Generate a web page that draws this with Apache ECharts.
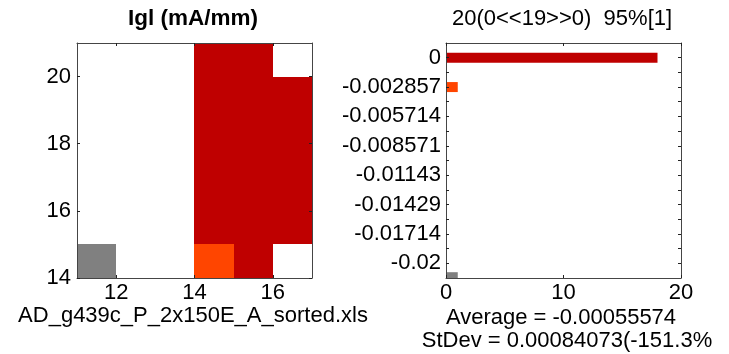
<!DOCTYPE html>
<html>
<head>
<meta charset="utf-8">
<script src="https://cdn.jsdelivr.net/npm/echarts@6/dist/echarts.min.js"></script>
<style>
  html, body { margin: 0; padding: 0; background: #fff; }
  #chart { width: 729px; height: 354px; }
</style>
</head>
<body>
<div id="chart"></div>
<script>
// Wafer map: column / row positions and Igl values (null = no die, NaN = missing)
const mapCols = [11, 12, 13, 14, 15, 16];
const mapRows = [14, 15, 16, 17, 18, 19, 20];
const mapValues = [
  [NaN,  null, null, -0.002857, 0, null], // row 14
  [null, null, null, 0,         0, 0],    // row 15
  [null, null, null, 0,         0, 0],    // row 16
  [null, null, null, 0,         0, 0],    // row 17
  [null, null, null, 0,         0, 0],    // row 18
  [null, null, null, 0,         0, 0],    // row 19
  [null, null, null, 0,         0, null]  // row 20
];
const mapXTicks = [12, 14, 16];
const mapYTicks = [14, 16, 18, 20];

// Histogram bins, their labels, counts and colours
const binValues = [0, -0.002857, -0.005714, -0.008571, -0.01143, -0.01429, -0.01714, -0.02];
const binLabels = ['0', '-0.002857', '-0.005714', '-0.008571', '-0.01143', '-0.01429', '-0.01714', '-0.02'];
const binCounts = [18, 1, 0, 0, 0, 0, 0, 0];
const binColors = ['#BF0000', '#FF4500', '#FF8C00', '#FFD700', '#ADFF2F', '#00CED1', '#1E90FF', '#0000CD'];
const missingCount = 1;
const missingPos = -0.02135;
const missingColor = '#808080';
const countTicks = [0, 10, 20];

const titleLeft = 'Igl (mA/mm)';
const titleRight = '20(0<<19>>0)  95%[1]';
const fileLabel = 'AD_g439c_P_2x150E_A_sorted.xls';
const avgLabel = 'Average = -0.00055574';
const stdLabel = 'StDev = 0.00084073(-151.3%';

function nearestBin(v) {
  let best = 0;
  binValues.forEach((b, i) => { if (Math.abs(b - v) < Math.abs(binValues[best] - v)) best = i; });
  return best;
}
function colorFor(v) {
  return Number.isNaN(v) ? missingColor : binColors[nearestBin(v)];
}

const cells = [];
mapRows.forEach((r, ri) => {
  mapCols.forEach((c, ci) => {
    const v = mapValues[ri][ci];
    if (v !== null) cells.push({ value: [c, r], itemStyle: { color: colorFor(v) } });
  });
});

const bars = binCounts.map((n, i) => ({ value: [n, binValues[i]], itemStyle: { color: binColors[i] } }))
  .filter(d => d.value[0] > 0);
bars.push({ value: [missingCount, missingPos], itemStyle: { color: missingColor } });

const halfStep = (binValues[0] - binValues[1]) / 2;
const binMid = binValues.slice(0, -1).map((b, i) => (b + binValues[i + 1]) / 2);
const yMinorTicks = binValues.concat(binMid);
const histMin = binValues[binValues.length - 1] - halfStep;
const histMax = binValues[0] + halfStep;

const FONT = 'Liberation Sans, Arial, sans-serif';
const LINE = '#454545';
const axisLine = { show: true, onZero: false, lineStyle: { color: LINE, width: 1 } };
const tick = (vals) => ({ show: true, inside: true, length: 3, customValues: vals, lineStyle: { color: '#222' } });
const lbl = (vals, extra) => Object.assign({ show: true, customValues: vals, color: '#000', fontSize: 22, fontFamily: FONT }, extra || {});
const noLbl = { show: false };
const noSplit = { show: false };

const chart = echarts.init(document.getElementById('chart'), null, { renderer: 'canvas' });
chart.setOption({
  animation: false,
  backgroundColor: '#fff',
  grid: [
    { left: 77, top: 43, width: 235, height: 235, show: false },
    { left: 446, top: 43, width: 235, height: 235, show: false }
  ],
  xAxis: [
    { gridIndex: 0, type: 'value', min: 11, max: 17, position: 'bottom', z: 5, axisLine, axisTick: tick(mapXTicks), axisLabel: lbl(mapXTicks, { margin: 4 }), splitLine: noSplit },
    { gridIndex: 0, type: 'value', min: 11, max: 17, position: 'top', z: 5, axisLine, axisTick: tick(mapXTicks), axisLabel: noLbl, splitLine: noSplit },
    { gridIndex: 1, type: 'value', min: 0, max: 20, position: 'bottom', z: 5, axisLine, axisTick: tick(countTicks), axisLabel: lbl(countTicks, { margin: 4 }), splitLine: noSplit },
    { gridIndex: 1, type: 'value', min: 0, max: 20, position: 'top', z: 5, axisLine, axisTick: tick(countTicks), axisLabel: noLbl, splitLine: noSplit }
  ],
  yAxis: [
    { gridIndex: 0, type: 'value', min: 14, max: 21, position: 'left', z: 5, axisLine, axisTick: tick(mapYTicks), axisLabel: lbl(mapYTicks, { margin: 6 }), splitLine: noSplit },
    { gridIndex: 0, type: 'value', min: 14, max: 21, position: 'right', z: 5, axisLine, axisTick: tick(mapYTicks), axisLabel: noLbl, splitLine: noSplit },
    { gridIndex: 1, type: 'value', min: histMin, max: histMax, position: 'left', z: 5, axisLine,
      axisTick: tick(yMinorTicks),
      axisLabel: lbl(binValues, { margin: 5, formatter: (v) => binLabels[nearestBin(v)] }),
      splitLine: noSplit },
    { gridIndex: 1, type: 'value', min: histMin, max: histMax, position: 'right', z: 5, axisLine,
      axisTick: tick(yMinorTicks), axisLabel: noLbl, splitLine: noSplit }
  ],
  series: [
    {
      type: 'custom', xAxisIndex: 0, yAxisIndex: 0, clip: true, z: 2,
      data: cells,
      renderItem: (params, api) => {
        const x = api.value(0), y = api.value(1);
        const p0 = api.coord([x, y + 1]);
        const p1 = api.coord([x + 1, y]);
        // snap cell edges to whole pixels so neighbouring cells meet without seams
        const x0 = Math.round(p0[0]), y0 = Math.round(p0[1]);
        const x1 = Math.round(p1[0]), y1 = Math.round(p1[1]);
        return { type: 'rect', shape: { x: x0, y: y0, width: x1 - x0, height: y1 - y0 },
          style: { fill: api.visual('color') } };
      }
    },
    {
      type: 'custom', xAxisIndex: 2, yAxisIndex: 2, clip: true, z: 2,
      data: bars,
      renderItem: (params, api) => {
        const n = api.value(0), y = api.value(1);
        const p0 = api.coord([0, y]);
        const p1 = api.coord([n, y]);
        const h = 10;
        return { type: 'rect', shape: { x: p0[0], y: p0[1] - h / 2, width: p1[0] - p0[0], height: h }, style: { fill: api.visual('color') } };
      }
    }
  ],
  graphic: [
    { type: 'text', x: 193, y: 19, style: { text: titleLeft, font: 'bold 22.5px ' + FONT, fill: '#000', align: 'center', verticalAlign: 'middle', textAlign: 'center', textVerticalAlign: 'middle' } },
    { type: 'text', x: 562, y: 19, style: { text: titleRight, font: '22px ' + FONT, fill: '#000', align: 'center', verticalAlign: 'middle', textAlign: 'center', textVerticalAlign: 'middle' } },
    { type: 'text', x: 193, y: 316, style: { text: fileLabel, font: '22px ' + FONT, fill: '#000', align: 'center', verticalAlign: 'middle', textAlign: 'center', textVerticalAlign: 'middle' } },
    { type: 'text', x: 561, y: 318, style: { text: avgLabel, font: '22px ' + FONT, fill: '#000', align: 'center', verticalAlign: 'middle', textAlign: 'center', textVerticalAlign: 'middle' } },
    { type: 'text', x: 567, y: 341, style: { text: stdLabel, font: '22px ' + FONT, fill: '#000', align: 'center', verticalAlign: 'middle', textAlign: 'center', textVerticalAlign: 'middle' } }
  ]
});
</script>
</body>
</html>
